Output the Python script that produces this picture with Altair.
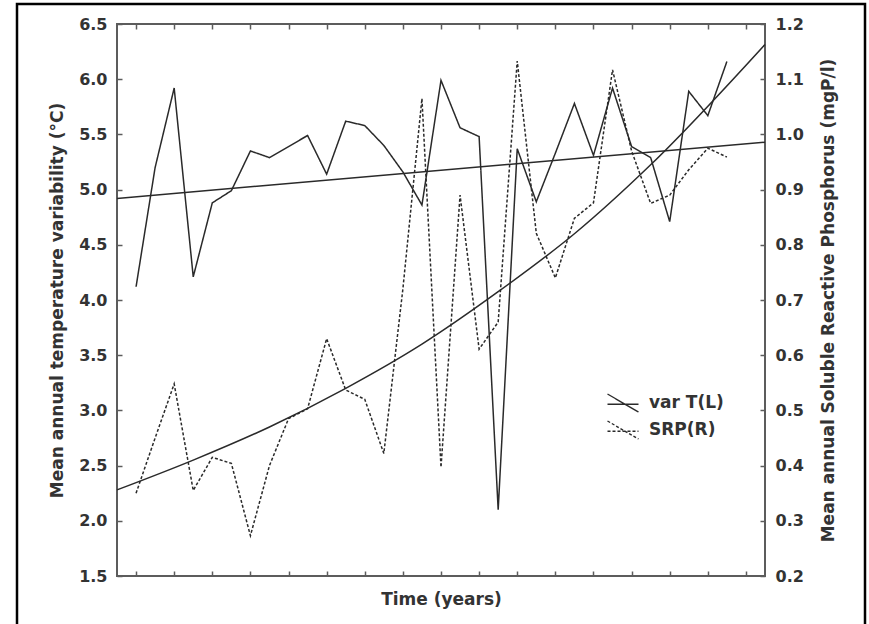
import altair as alt
import pandas as pd

# ---- data ----
year_idx = list(range(32))
var_t = [4.12, 5.20, 5.92, 4.21, 4.88, 4.99, 5.35, 5.29, 5.39, 5.49,
         5.14, 5.62, 5.58, 5.40, 5.16, 4.86, 5.99, 5.56, 5.48, 2.10,
         5.37, 4.89, 5.33, 5.78, 5.31, 5.92, 5.39, 5.29, 4.71, 5.89,
         5.67, 6.16]
srp = [0.350, 0.450, 0.548, 0.355, 0.415, 0.404, 0.273, 0.400, 0.485, 0.503,
       0.630, 0.537, 0.520, 0.422, 0.720, 1.065, 0.397, 0.890, 0.611, 0.660,
       1.133, 0.821, 0.740, 0.848, 0.876, 1.117, 0.970, 0.875, 0.890, 0.936,
       0.975, 0.959]
trend_t_x = [-1, 33]
trend_t = [4.92, 5.43]
trend_s_x = [-1, 3, 7, 11, 15, 19, 23, 27, 33]
trend_s = [0.356, 0.410, 0.470, 0.540, 0.620, 0.715, 0.820, 0.945, 1.163]
series_names = ["var T(L)", "SRP(R)"]
left_ticks = [1.5, 2.0, 2.5, 3.0, 3.5, 4.0, 4.5, 5.0, 5.5, 6.0, 6.5]
right_ticks = [0.2, 0.3, 0.4, 0.5, 0.6, 0.7, 0.8, 0.9, 1.0, 1.1, 1.2]
x_ticks = list(range(0, 33, 2))

df_t = pd.DataFrame({"idx": year_idx, "val": var_t, "series": series_names[0]})
df_s = pd.DataFrame({"idx": year_idx, "val": srp, "series": series_names[1]})
df_tt = pd.DataFrame({"idx": trend_t_x, "val": trend_t})
df_st = pd.DataFrame({"idx": trend_s_x, "val": trend_s})
df_frame = pd.DataFrame({"k": [0]})

INK = "#2a2a2a"
AX = "#5c5c5c"
TXT = "#333333"
FONT = "DejaVu Sans"
INWARD = {"expr": "-5"}
LW = 1.5

x_scale = alt.Scale(domain=[-1, 33], nice=False, zero=False)
yl_scale = alt.Scale(domain=[1.5, 6.5], nice=False, zero=False)
yr_scale = alt.Scale(domain=[0.2, 1.2], nice=False, zero=False)

common_tick = dict(domain=False, grid=False, tickSize=INWARD, tickColor=AX, tickWidth=1.5)
title_style = dict(titleFont=FONT, titleFontSize=17, titleFontWeight="bold", titleColor=TXT)
label_style = dict(labelFont=FONT, labelFontSize=16, labelFontWeight="bold", labelColor=TXT)

x_bottom = alt.Axis(orient="bottom", values=x_ticks, labels=False,
                    title="Time (years)", titleX=324, titleY=28,
                    titleAlign="center", titleBaseline="alphabetic",
                    **common_tick, **title_style)
x_top = alt.Axis(orient="top", values=x_ticks, labels=False, title=None, **common_tick)

y_left = alt.Axis(orient="left", values=left_ticks, format=".1f", labelPadding=15,
                  title="Mean annual temperature variability (°C)",
                  titleAngle=270, titleX=-55, titleY=276, titleAlign="center",
                  titleBaseline="alphabetic",
                  **common_tick, **label_style, **title_style)
y_right = alt.Axis(orient="right", values=right_ticks, format=".1f", labelPadding=15,
                   title="Mean annual Soluble Reactive Phosphorus (mgP/l)",
                   titleAngle=270, titleX=68, titleY=276, titleAlign="center",
                   titleBaseline="alphabetic",
                   **common_tick, **label_style, **title_style)

dash_scale = alt.Scale(domain=series_names, range=[[1, 0], [3, 2]])
legend = alt.Legend(title=None, orient="none", legendX=495, legendY=368, padding=0,
                    symbolType="M-1.55,0.12L1.55,0.12M-1.55,-0.9L1.55,0.9",
                    symbolSize=400, symbolStrokeColor=INK, symbolStrokeWidth=1.4,
                    symbolFillColor="transparent",
                    labelFont=FONT, labelFontSize=17, labelFontWeight="bold",
                    labelColor=TXT, labelOffset=15, rowPadding=3)

X_b = alt.X("idx:Q", scale=x_scale, axis=x_bottom)
X_t = alt.X("idx:Q", scale=x_scale, axis=x_top)
Y_l = alt.Y("val:Q", scale=yl_scale, axis=y_left)
Y_r = alt.Y("val:Q", scale=yr_scale, axis=y_right)

t_line = alt.Chart(df_t).mark_line(color=INK, strokeWidth=LW).encode(
    x=X_b, y=Y_l,
    strokeDash=alt.StrokeDash("series:N", scale=dash_scale, legend=legend))
t_trend = alt.Chart(df_tt).mark_line(color=INK, strokeWidth=LW).encode(x=X_b, y=Y_l)

frame = alt.Chart(df_frame).mark_rect(fill="transparent", stroke="black", strokeWidth=2.5).encode(
    x=alt.value(-100), x2=alt.value(748), y=alt.value(-20), y2=alt.value(640))

left = alt.layer(t_line, t_trend, frame)

s_line = alt.Chart(df_s).mark_line(color=INK, strokeWidth=LW).encode(
    x=X_t, y=Y_r,
    strokeDash=alt.StrokeDash("series:N", scale=dash_scale, legend=legend))
s_trend = alt.Chart(df_st).mark_line(color=INK, strokeWidth=LW, interpolate="monotone").encode(
    x=X_t, y=Y_r)

right = alt.layer(s_line, s_trend)

chart = (
    alt.layer(left, right)
    .resolve_scale(y="independent")
    .resolve_axis(x="independent", y="independent")
    .properties(width=648, height=552,
                padding={"left": 117, "top": 24, "right": 104, "bottom": 48},
                autosize=alt.AutoSizeParams(type="none"),
                background="white")
    .configure_view(stroke=AX, strokeWidth=2)
)

chart.save("out.html", embed_options={"renderer": "svg", "actions": False})
